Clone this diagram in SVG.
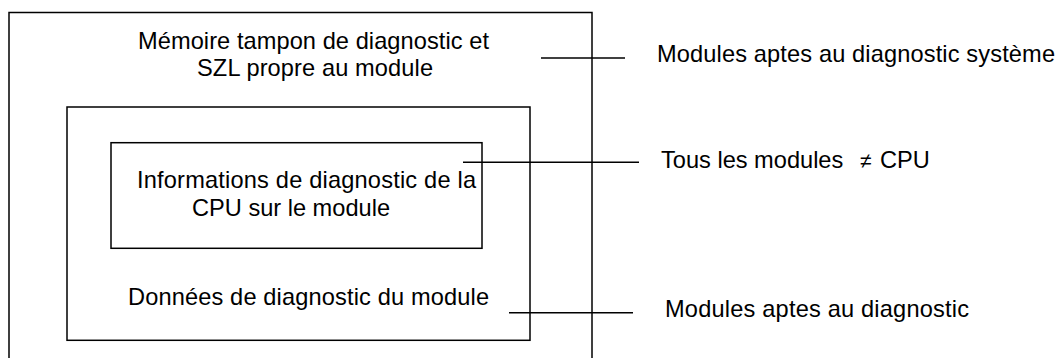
<svg xmlns="http://www.w3.org/2000/svg" width="1062" height="358" viewBox="0 0 1062 358">
<style>
.box{fill:none;stroke:#000;stroke-width:1.5}
.ln{stroke:#000;stroke-width:1.4;fill:none}
text{font-family:"Liberation Sans",Arial,sans-serif;font-size:23.6px;fill:#000}
</style>
<rect x="0" y="0" width="1062" height="358" fill="#fff"/>
<g id="node-outer">
<rect class="box" x="9" y="12.5" width="583" height="360"/>
<text x="138" y="48.5" textLength="351" lengthAdjust="spacing">Mémoire tampon de diagnostic et</text>
<text x="197" y="75.5" textLength="236" lengthAdjust="spacing">SZL propre au module</text>
</g>
<g id="node-middle">
<rect class="box" x="67" y="107" width="463" height="233.3"/>
<text x="128" y="305" textLength="361" lengthAdjust="spacing">Données de diagnostic du module</text>
</g>
<g id="node-inner">
<rect class="box" x="111" y="142.7" width="371" height="105.6"/>
<text x="137" y="187.5" textLength="339" lengthAdjust="spacing">Informations de diagnostic de la</text>
<text x="192" y="215.5" textLength="198" lengthAdjust="spacing">CPU sur le module</text>
</g>
<g id="connectors">
<line class="ln" x1="541" y1="58" x2="625" y2="58"/>
<line class="ln" x1="463" y1="162.3" x2="639" y2="162.3"/>
<line class="ln" x1="509" y1="312.7" x2="633" y2="312.7"/>
</g>
<g id="label-system">
<text x="657" y="61.5" textLength="398" lengthAdjust="spacing">Modules aptes au diagnostic système</text>
</g>
<g id="label-all">
<text x="661" y="168">Tous les modules <tspan x="860" font-size="21">≠</tspan><tspan x="880">CPU</tspan></text>
</g>
<g id="label-diag">
<text x="665" y="317" textLength="304" lengthAdjust="spacing">Modules aptes au diagnostic</text>
</g>
</svg>
